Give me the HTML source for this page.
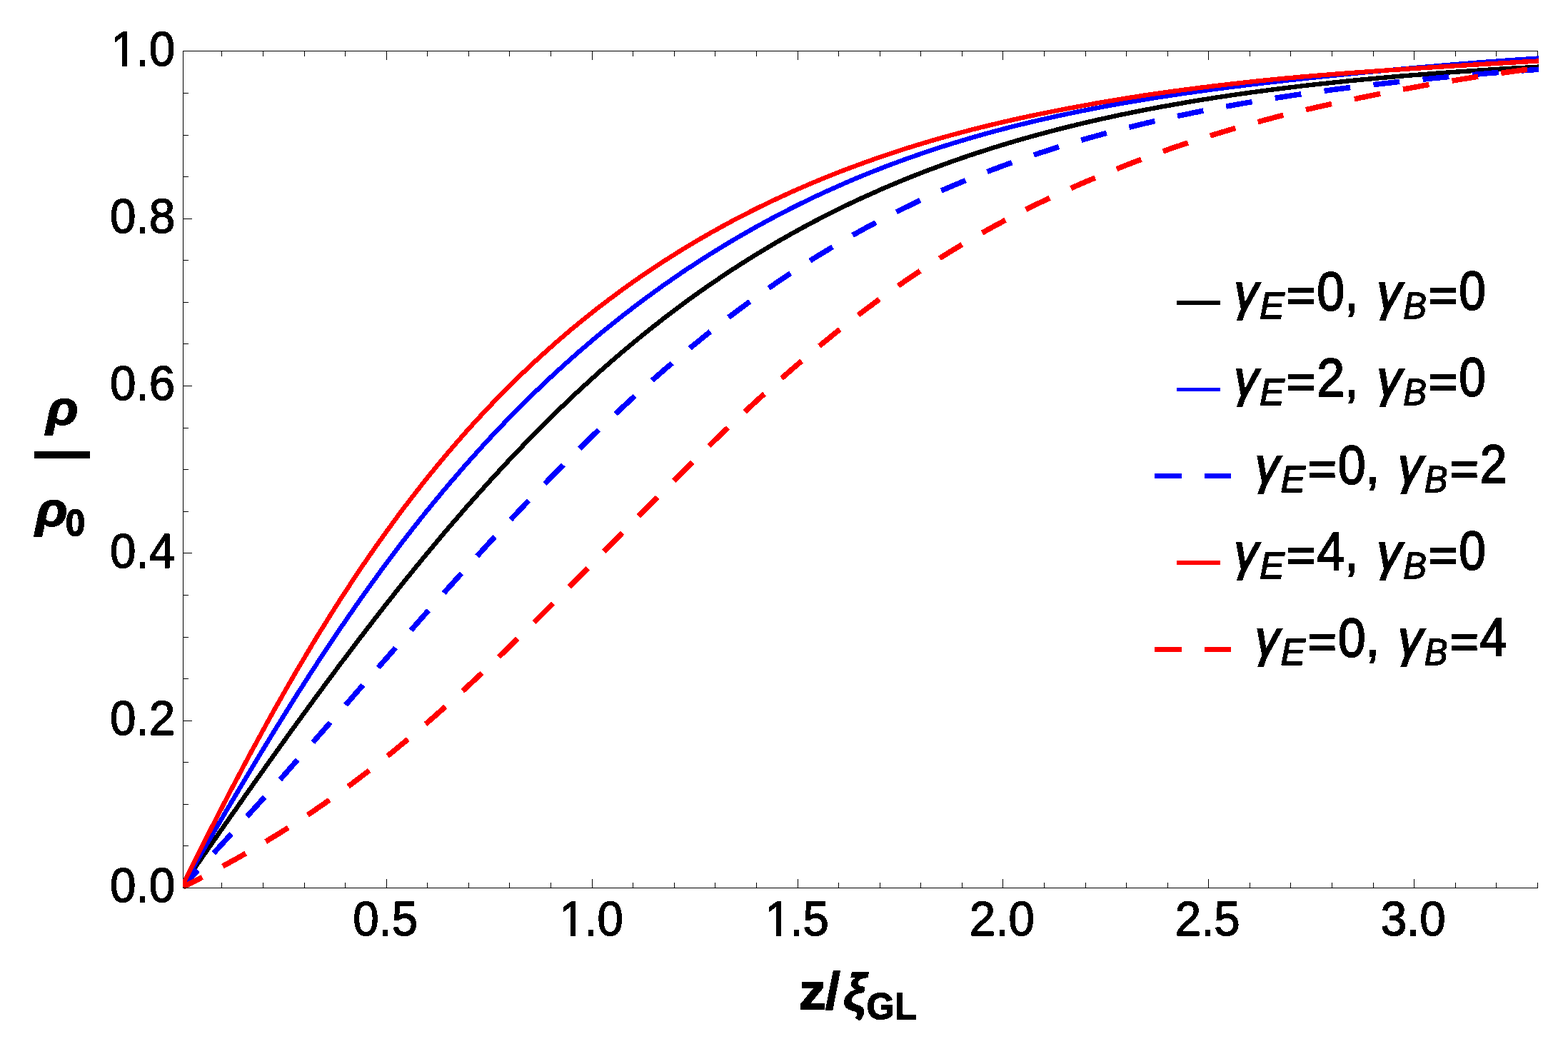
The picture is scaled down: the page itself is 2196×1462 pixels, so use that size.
<!DOCTYPE html>
<html lang="en"><head><meta charset="utf-8"><title>Order parameter profile</title>
<style>
html,body{margin:0;padding:0;background:#fff;}
body{width:2196px;height:1462px;overflow:hidden;}
svg{display:block;}
text{font-family:"Liberation Sans",sans-serif;fill:#000;stroke:#000;stroke-linejoin:miter;stroke-miterlimit:3;font-kerning:none;}
.b{font-weight:bold;}
.i{font-style:italic;}
</style></head><body>
<svg width="2196" height="1462" viewBox="0 0 2196 1462">
<rect x="0" y="0" width="2196" height="1462" fill="#fff"/>
<defs><clipPath id="c"><rect x="256.0" y="61.5" width="1899.0" height="1186.0"/></clipPath><filter id="th" x="0" y="0" width="2196" height="1462" filterUnits="userSpaceOnUse" color-interpolation-filters="sRGB"><feComponentTransfer><feFuncA type="discrete" tableValues="0 1"/></feComponentTransfer></filter></defs>
<path d="M256.5,71.0 V1244.0 M256.0,71.5 H2154.0 M310.5,71.0 v8 M368.5,71.0 v8 M426.5,71.0 v8 M483.5,71.0 v8 M541.5,71.0 v13 M598.5,71.0 v8 M656.5,71.0 v8 M713.5,71.0 v8 M771.5,71.0 v8 M829.5,71.0 v13 M886.5,71.0 v8 M944.5,71.0 v8 M1001.5,71.0 v8 M1059.5,71.0 v8 M1117.5,71.0 v13 M1174.5,71.0 v8 M1232.5,71.0 v8 M1289.5,71.0 v8 M1347.5,71.0 v8 M1404.5,71.0 v13 M1462.5,71.0 v8 M1520.5,71.0 v8 M1577.5,71.0 v8 M1635.5,71.0 v8 M1692.5,71.0 v13 M1750.5,71.0 v8 M1807.5,71.0 v8 M1865.5,71.0 v8 M1923.5,71.0 v8 M1980.5,71.0 v13 M2038.5,71.0 v8 M2095.5,71.0 v8 M2153.5,71.0 v8 M256.0,1243.5 h13 M256.0,1184.5 h8 M256.0,1126.5 h8 M256.0,1067.5 h8 M256.0,1009.5 h13 M256.0,950.5 h8 M256.0,892.5 h8 M256.0,833.5 h8 M256.0,774.5 h13 M256.0,716.5 h8 M256.0,657.5 h8 M256.0,599.5 h8 M256.0,540.5 h13 M256.0,481.5 h8 M256.0,423.5 h8 M256.0,364.5 h8 M256.0,306.5 h13 M256.0,247.5 h8 M256.0,189.5 h8 M256.0,130.5 h8 M256.0,71.5 h13" stroke="#000" stroke-width="1" fill="none" shape-rendering="crispEdges"/>
<g clip-path="url(#c)" fill="none" stroke-linejoin="round" shape-rendering="crispEdges">
<path d="M256.5,1238.9 L260.3,1233.4 L264.1,1227.9 L268.0,1222.4 L271.8,1216.9 L275.6,1211.4 L279.4,1206.0 L283.2,1200.5 L287.0,1195.0 L290.8,1189.5 L294.6,1184.1 L298.5,1178.6 L302.3,1173.1 L306.1,1167.7 L309.9,1162.2 L313.7,1156.7 L317.5,1151.3 L321.3,1145.8 L325.1,1140.4 L329.0,1135.0 L332.8,1129.5 L336.6,1124.1 L340.4,1118.7 L344.2,1113.2 L348.0,1107.8 L351.8,1102.4 L355.6,1097.0 L359.5,1091.6 L363.3,1086.2 L367.1,1080.9 L370.9,1075.5 L374.7,1070.1 L378.5,1064.7 L382.3,1059.4 L386.1,1054.0 L390.0,1048.7 L393.8,1043.4 L397.6,1038.1 L401.4,1032.7 L405.2,1027.4 L409.0,1022.1 L412.8,1016.9 L416.6,1011.6 L420.5,1006.3 L424.3,1001.1 L428.1,995.8 L431.9,990.6 L435.7,985.4 L439.5,980.1 L443.3,974.9 L447.1,969.8 L451.0,964.6 L454.8,959.4 L458.6,954.2 L462.4,949.1 L466.2,944.0 L470.0,938.9 L473.8,933.7 L477.6,928.6 L481.5,923.6 L485.3,918.5 L489.1,913.4 L492.9,908.4 L496.7,903.4 L500.5,898.3 L504.3,893.3 L508.1,888.4 L512.0,883.4 L515.8,878.4 L519.6,873.5 L523.4,868.5 L527.2,863.6 L531.0,858.7 L534.8,853.8 L538.6,849.0 L542.5,844.1 L546.3,839.3 L550.1,834.5 L553.9,829.6 L557.7,824.9 L561.5,820.1 L565.3,815.3 L569.1,810.6 L573.0,805.8 L576.8,801.1 L580.6,796.4 L584.4,791.8 L588.2,787.1 L592.0,782.5 L595.8,777.8 L599.6,773.2 L603.5,768.6 L607.3,764.0 L611.1,759.5 L614.9,754.9 L618.7,750.4 L622.5,745.9 L626.3,741.4 L630.1,737.0 L634.0,732.5 L637.8,728.1 L641.6,723.7 L645.4,719.3 L649.2,714.9 L653.0,710.5 L656.8,706.2 L660.6,701.9 L664.5,697.6 L668.3,693.3 L672.1,689.0 L675.9,684.8 L679.7,680.5 L683.5,676.3 L687.3,672.1 L691.1,668.0 L695.0,663.8 L698.8,659.7 L702.6,655.6 L706.4,651.5 L710.2,647.4 L714.0,643.3 L717.8,639.3 L721.6,635.3 L725.5,631.3 L729.3,627.3 L733.1,623.4 L736.9,619.4 L740.7,615.5 L744.5,611.6 L748.3,607.7 L752.1,603.9 L756.0,600.0 L759.8,596.2 L763.6,592.4 L767.4,588.6 L771.2,584.9 L775.0,581.1 L778.8,577.4 L782.6,573.7 L786.5,570.0 L790.3,566.3 L794.1,562.7 L797.9,559.1 L801.7,555.5 L805.5,551.9 L809.3,548.3 L813.1,544.8 L817.0,541.3 L820.8,537.8 L824.6,534.3 L828.4,530.8 L832.2,527.4 L836.0,523.9 L839.8,520.5 L843.6,517.1 L847.5,513.8 L851.3,510.4 L855.1,507.1 L858.9,503.8 L862.7,500.5 L866.5,497.2 L870.3,494.0 L874.1,490.7 L878.0,487.5 L881.8,484.3 L885.6,481.2 L889.4,478.0 L893.2,474.9 L897.0,471.8 L900.8,468.7 L904.6,465.6 L908.5,462.5 L912.3,459.5 L916.1,456.5 L919.9,453.5 L923.7,450.5 L927.5,447.5 L931.3,444.6 L935.1,441.7 L939.0,438.8 L942.8,435.9 L946.6,433.0 L950.4,430.2 L954.2,427.3 L958.0,424.5 L961.8,421.7 L965.6,418.9 L969.4,416.2 L973.3,413.4 L977.1,410.7 L980.9,408.0 L984.7,405.3 L988.5,402.7 L992.3,400.0 L996.1,397.4 L999.9,394.8 L1003.8,392.2 L1007.6,389.6 L1011.4,387.0 L1015.2,384.5 L1019.0,381.9 L1022.8,379.4 L1026.6,376.9 L1030.4,374.5 L1034.3,372.0 L1038.1,369.6 L1041.9,367.1 L1045.7,364.7 L1049.5,362.3 L1053.3,360.0 L1057.1,357.6 L1060.9,355.3 L1064.8,352.9 L1068.6,350.6 L1072.4,348.3 L1076.2,346.1 L1080.0,343.8 L1083.8,341.6 L1087.6,339.3 L1091.4,337.1 L1095.3,334.9 L1099.1,332.8 L1102.9,330.6 L1106.7,328.4 L1110.5,326.3 L1114.3,324.2 L1118.1,322.1 L1121.9,320.0 L1125.8,317.9 L1129.6,315.9 L1133.4,313.8 L1137.2,311.8 L1141.0,309.8 L1144.8,307.8 L1148.6,305.8 L1152.4,303.9 L1156.3,301.9 L1160.1,300.0 L1163.9,298.1 L1167.7,296.2 L1171.5,294.3 L1175.3,292.4 L1179.1,290.5 L1182.9,288.7 L1186.8,286.8 L1190.6,285.0 L1194.4,283.2 L1198.2,281.4 L1202.0,279.6 L1205.8,277.9 L1209.6,276.1 L1213.4,274.4 L1217.3,272.7 L1221.1,271.0 L1224.9,269.3 L1228.7,267.6 L1232.5,265.9 L1236.3,264.2 L1240.1,262.6 L1243.9,261.0 L1247.8,259.3 L1251.6,257.7 L1255.4,256.1 L1259.2,254.5 L1263.0,253.0 L1266.8,251.4 L1270.6,249.9 L1274.4,248.3 L1278.3,246.8 L1282.1,245.3 L1285.9,243.8 L1289.7,242.3 L1293.5,240.8 L1297.3,239.4 L1301.1,237.9 L1304.9,236.5 L1308.8,235.1 L1312.6,233.7 L1316.4,232.3 L1320.2,230.9 L1324.0,229.5 L1327.8,228.1 L1331.6,226.7 L1335.4,225.4 L1339.3,224.1 L1343.1,222.7 L1346.9,221.4 L1350.7,220.1 L1354.5,218.8 L1358.3,217.5 L1362.1,216.3 L1365.9,215.0 L1369.8,213.7 L1373.6,212.5 L1377.4,211.3 L1381.2,210.0 L1385.0,208.8 L1388.8,207.6 L1392.6,206.4 L1396.4,205.3 L1400.3,204.1 L1404.1,202.9 L1407.9,201.8 L1411.7,200.6 L1415.5,199.5 L1419.3,198.4 L1423.1,197.2 L1426.9,196.1 L1430.8,195.0 L1434.6,194.0 L1438.4,192.9 L1442.2,191.8 L1446.0,190.7 L1449.8,189.7 L1453.6,188.7 L1457.4,187.6 L1461.3,186.6 L1465.1,185.6 L1468.9,184.6 L1472.7,183.6 L1476.5,182.6 L1480.3,181.6 L1484.1,180.6 L1487.9,179.6 L1491.8,178.7 L1495.6,177.7 L1499.4,176.8 L1503.2,175.9 L1507.0,174.9 L1510.8,174.0 L1514.6,173.1 L1518.4,172.2 L1522.3,171.3 L1526.1,170.4 L1529.9,169.5 L1533.7,168.7 L1537.5,167.8 L1541.3,166.9 L1545.1,166.1 L1548.9,165.3 L1552.8,164.4 L1556.6,163.6 L1560.4,162.8 L1564.2,162.0 L1568.0,161.1 L1571.8,160.3 L1575.6,159.6 L1579.4,158.8 L1583.3,158.0 L1587.1,157.2 L1590.9,156.4 L1594.7,155.7 L1598.5,154.9 L1602.3,154.2 L1606.1,153.4 L1609.9,152.7 L1613.8,152.0 L1617.6,151.3 L1621.4,150.6 L1625.2,149.8 L1629.0,149.1 L1632.8,148.4 L1636.6,147.8 L1640.4,147.1 L1644.3,146.4 L1648.1,145.7 L1651.9,145.1 L1655.7,144.4 L1659.5,143.7 L1663.3,143.1 L1667.1,142.4 L1670.9,141.8 L1674.8,141.2 L1678.6,140.5 L1682.4,139.9 L1686.2,139.3 L1690.0,138.7 L1693.8,138.1 L1697.6,137.5 L1701.4,136.9 L1705.3,136.3 L1709.1,135.7 L1712.9,135.1 L1716.7,134.6 L1720.5,134.0 L1724.3,133.4 L1728.1,132.9 L1731.9,132.3 L1735.8,131.8 L1739.6,131.2 L1743.4,130.7 L1747.2,130.2 L1751.0,129.6 L1754.8,129.1 L1758.6,128.6 L1762.4,128.1 L1766.3,127.6 L1770.1,127.1 L1773.9,126.6 L1777.7,126.1 L1781.5,125.6 L1785.3,125.1 L1789.1,124.6 L1792.9,124.1 L1796.8,123.6 L1800.6,123.2 L1804.4,122.7 L1808.2,122.2 L1812.0,121.8 L1815.8,121.3 L1819.6,120.9 L1823.4,120.4 L1827.3,120.0 L1831.1,119.5 L1834.9,119.1 L1838.7,118.7 L1842.5,118.2 L1846.3,117.8 L1850.1,117.4 L1853.9,117.0 L1857.8,116.6 L1861.6,116.2 L1865.4,115.8 L1869.2,115.4 L1873.0,115.0 L1876.8,114.6 L1880.6,114.2 L1884.4,113.8 L1888.3,113.4 L1892.1,113.0 L1895.9,112.6 L1899.7,112.3 L1903.5,111.9 L1907.3,111.5 L1911.1,111.2 L1914.9,110.8 L1918.8,110.5 L1922.6,110.1 L1926.4,109.8 L1930.2,109.4 L1934.0,109.1 L1937.8,108.7 L1941.6,108.4 L1945.4,108.1 L1949.3,107.7 L1953.1,107.4 L1956.9,107.1 L1960.7,106.7 L1964.5,106.4 L1968.3,106.1 L1972.1,105.8 L1975.9,105.5 L1979.8,105.2 L1983.6,104.9 L1987.4,104.6 L1991.2,104.3 L1995.0,104.0 L1998.8,103.7 L2002.6,103.4 L2006.4,103.1 L2010.3,102.8 L2014.1,102.5 L2017.9,102.2 L2021.7,102.0 L2025.5,101.7 L2029.3,101.4 L2033.1,101.1 L2036.9,100.9 L2040.7,100.6 L2044.6,100.3 L2048.4,100.1 L2052.2,99.8 L2056.0,99.6 L2059.8,99.3 L2063.6,99.0 L2067.4,98.8 L2071.2,98.6 L2075.1,98.3 L2078.9,98.1 L2082.7,97.8 L2086.5,97.6 L2090.3,97.3 L2094.1,97.1 L2097.9,96.9 L2101.7,96.6 L2105.6,96.4 L2109.4,96.2 L2113.2,96.0 L2117.0,95.7 L2120.8,95.5 L2124.6,95.3 L2128.4,95.1 L2132.2,94.9 L2136.1,94.7 L2139.9,94.5 L2143.7,94.2 L2147.5,94.0 L2151.3,93.8 L2155.1,93.6 L2158.9,93.4" stroke="#000000" stroke-width="6.4"/>
<path d="M256.5,1238.7 L260.3,1232.2 L264.1,1225.6 L268.0,1219.1 L271.8,1212.6 L275.6,1206.1 L279.4,1199.6 L283.2,1193.0 L287.0,1186.5 L290.8,1180.0 L294.6,1173.5 L298.5,1167.0 L302.3,1160.5 L306.1,1154.0 L309.9,1147.5 L313.7,1141.1 L317.5,1134.6 L321.3,1128.1 L325.1,1121.7 L329.0,1115.3 L332.8,1108.8 L336.6,1102.4 L340.4,1096.0 L344.2,1089.6 L348.0,1083.3 L351.8,1076.9 L355.6,1070.6 L359.5,1064.2 L363.3,1057.9 L367.1,1051.6 L370.9,1045.4 L374.7,1039.1 L378.5,1032.9 L382.3,1026.7 L386.1,1020.5 L390.0,1014.3 L393.8,1008.1 L397.6,1002.0 L401.4,995.9 L405.2,989.8 L409.0,983.7 L412.8,977.6 L416.6,971.6 L420.5,965.6 L424.3,959.6 L428.1,953.7 L431.9,947.7 L435.7,941.8 L439.5,935.9 L443.3,930.1 L447.1,924.2 L451.0,918.4 L454.8,912.6 L458.6,906.9 L462.4,901.2 L466.2,895.4 L470.0,889.8 L473.8,884.1 L477.6,878.5 L481.5,872.9 L485.3,867.3 L489.1,861.8 L492.9,856.3 L496.7,850.8 L500.5,845.3 L504.3,839.9 L508.1,834.5 L512.0,829.1 L515.8,823.8 L519.6,818.4 L523.4,813.1 L527.2,807.9 L531.0,802.6 L534.8,797.4 L538.6,792.3 L542.5,787.1 L546.3,782.0 L550.1,776.9 L553.9,771.8 L557.7,766.8 L561.5,761.8 L565.3,756.8 L569.1,751.9 L573.0,746.9 L576.8,742.0 L580.6,737.2 L584.4,732.3 L588.2,727.5 L592.0,722.8 L595.8,718.0 L599.6,713.3 L603.5,708.6 L607.3,703.9 L611.1,699.3 L614.9,694.7 L618.7,690.1 L622.5,685.5 L626.3,681.0 L630.1,676.5 L634.0,672.0 L637.8,667.6 L641.6,663.2 L645.4,658.8 L649.2,654.4 L653.0,650.1 L656.8,645.8 L660.6,641.5 L664.5,637.2 L668.3,633.0 L672.1,628.8 L675.9,624.6 L679.7,620.4 L683.5,616.3 L687.3,612.2 L691.1,608.1 L695.0,604.1 L698.8,600.1 L702.6,596.1 L706.4,592.1 L710.2,588.2 L714.0,584.2 L717.8,580.3 L721.6,576.5 L725.5,572.6 L729.3,568.8 L733.1,565.0 L736.9,561.2 L740.7,557.5 L744.5,553.7 L748.3,550.0 L752.1,546.4 L756.0,542.7 L759.8,539.1 L763.6,535.5 L767.4,531.9 L771.2,528.3 L775.0,524.8 L778.8,521.3 L782.6,517.8 L786.5,514.3 L790.3,510.9 L794.1,507.4 L797.9,504.0 L801.7,500.7 L805.5,497.3 L809.3,494.0 L813.1,490.6 L817.0,487.4 L820.8,484.1 L824.6,480.8 L828.4,477.6 L832.2,474.4 L836.0,471.2 L839.8,468.0 L843.6,464.9 L847.5,461.8 L851.3,458.7 L855.1,455.6 L858.9,452.5 L862.7,449.5 L866.5,446.5 L870.3,443.5 L874.1,440.5 L878.0,437.5 L881.8,434.6 L885.6,431.6 L889.4,428.7 L893.2,425.8 L897.0,423.0 L900.8,420.1 L904.6,417.3 L908.5,414.5 L912.3,411.7 L916.1,408.9 L919.9,406.2 L923.7,403.5 L927.5,400.7 L931.3,398.0 L935.1,395.4 L939.0,392.7 L942.8,390.1 L946.6,387.4 L950.4,384.8 L954.2,382.2 L958.0,379.7 L961.8,377.1 L965.6,374.6 L969.4,372.1 L973.3,369.6 L977.1,367.1 L980.9,364.6 L984.7,362.2 L988.5,359.7 L992.3,357.3 L996.1,354.9 L999.9,352.6 L1003.8,350.2 L1007.6,347.8 L1011.4,345.5 L1015.2,343.2 L1019.0,340.9 L1022.8,338.6 L1026.6,336.4 L1030.4,334.1 L1034.3,331.9 L1038.1,329.7 L1041.9,327.5 L1045.7,325.3 L1049.5,323.1 L1053.3,321.0 L1057.1,318.8 L1060.9,316.7 L1064.8,314.6 L1068.6,312.5 L1072.4,310.4 L1076.2,308.4 L1080.0,306.3 L1083.8,304.3 L1087.6,302.3 L1091.4,300.3 L1095.3,298.3 L1099.1,296.3 L1102.9,294.4 L1106.7,292.4 L1110.5,290.5 L1114.3,288.6 L1118.1,286.7 L1121.9,284.8 L1125.8,283.0 L1129.6,281.1 L1133.4,279.3 L1137.2,277.4 L1141.0,275.6 L1144.8,273.8 L1148.6,272.1 L1152.4,270.3 L1156.3,268.5 L1160.1,266.8 L1163.9,265.1 L1167.7,263.4 L1171.5,261.7 L1175.3,260.0 L1179.1,258.3 L1182.9,256.6 L1186.8,255.0 L1190.6,253.4 L1194.4,251.7 L1198.2,250.1 L1202.0,248.5 L1205.8,247.0 L1209.6,245.4 L1213.4,243.8 L1217.3,242.3 L1221.1,240.8 L1224.9,239.3 L1228.7,237.8 L1232.5,236.3 L1236.3,234.8 L1240.1,233.3 L1243.9,231.9 L1247.8,230.4 L1251.6,229.0 L1255.4,227.6 L1259.2,226.2 L1263.0,224.8 L1266.8,223.4 L1270.6,222.0 L1274.4,220.7 L1278.3,219.3 L1282.1,218.0 L1285.9,216.7 L1289.7,215.3 L1293.5,214.0 L1297.3,212.8 L1301.1,211.5 L1304.9,210.2 L1308.8,208.9 L1312.6,207.7 L1316.4,206.5 L1320.2,205.2 L1324.0,204.0 L1327.8,202.8 L1331.6,201.6 L1335.4,200.5 L1339.3,199.3 L1343.1,198.1 L1346.9,197.0 L1350.7,195.8 L1354.5,194.7 L1358.3,193.6 L1362.1,192.5 L1365.9,191.4 L1369.8,190.3 L1373.6,189.2 L1377.4,188.1 L1381.2,187.1 L1385.0,186.0 L1388.8,185.0 L1392.6,183.9 L1396.4,182.9 L1400.3,181.9 L1404.1,180.9 L1407.9,179.9 L1411.7,178.9 L1415.5,177.9 L1419.3,177.0 L1423.1,176.0 L1426.9,175.1 L1430.8,174.1 L1434.6,173.2 L1438.4,172.3 L1442.2,171.3 L1446.0,170.4 L1449.8,169.5 L1453.6,168.6 L1457.4,167.8 L1461.3,166.9 L1465.1,166.0 L1468.9,165.2 L1472.7,164.3 L1476.5,163.5 L1480.3,162.6 L1484.1,161.8 L1487.9,161.0 L1491.8,160.2 L1495.6,159.4 L1499.4,158.6 L1503.2,157.8 L1507.0,157.0 L1510.8,156.2 L1514.6,155.4 L1518.4,154.7 L1522.3,153.9 L1526.1,153.2 L1529.9,152.4 L1533.7,151.7 L1537.5,151.0 L1541.3,150.2 L1545.1,149.5 L1548.9,148.8 L1552.8,148.1 L1556.6,147.4 L1560.4,146.7 L1564.2,146.0 L1568.0,145.3 L1571.8,144.7 L1575.6,144.0 L1579.4,143.3 L1583.3,142.7 L1587.1,142.0 L1590.9,141.4 L1594.7,140.8 L1598.5,140.1 L1602.3,139.5 L1606.1,138.9 L1609.9,138.3 L1613.8,137.6 L1617.6,137.0 L1621.4,136.4 L1625.2,135.8 L1629.0,135.2 L1632.8,134.7 L1636.6,134.1 L1640.4,133.5 L1644.3,132.9 L1648.1,132.4 L1651.9,131.8 L1655.7,131.2 L1659.5,130.7 L1663.3,130.1 L1667.1,129.6 L1670.9,129.1 L1674.8,128.5 L1678.6,128.0 L1682.4,127.5 L1686.2,126.9 L1690.0,126.4 L1693.8,125.9 L1697.6,125.4 L1701.4,124.9 L1705.3,124.4 L1709.1,123.9 L1712.9,123.4 L1716.7,122.9 L1720.5,122.4 L1724.3,121.9 L1728.1,121.4 L1731.9,121.0 L1735.8,120.5 L1739.6,120.0 L1743.4,119.5 L1747.2,119.1 L1751.0,118.6 L1754.8,118.1 L1758.6,117.7 L1762.4,117.2 L1766.3,116.8 L1770.1,116.3 L1773.9,115.9 L1777.7,115.5 L1781.5,115.0 L1785.3,114.6 L1789.1,114.1 L1792.9,113.7 L1796.8,113.3 L1800.6,112.9 L1804.4,112.4 L1808.2,112.0 L1812.0,111.6 L1815.8,111.2 L1819.6,110.8 L1823.4,110.3 L1827.3,109.9 L1831.1,109.5 L1834.9,109.1 L1838.7,108.7 L1842.5,108.3 L1846.3,107.9 L1850.1,107.5 L1853.9,107.1 L1857.8,106.7 L1861.6,106.3 L1865.4,106.0 L1869.2,105.6 L1873.0,105.2 L1876.8,104.8 L1880.6,104.4 L1884.4,104.0 L1888.3,103.7 L1892.1,103.3 L1895.9,102.9 L1899.7,102.5 L1903.5,102.2 L1907.3,101.8 L1911.1,101.4 L1914.9,101.1 L1918.8,100.7 L1922.6,100.3 L1926.4,100.0 L1930.2,99.6 L1934.0,99.3 L1937.8,98.9 L1941.6,98.6 L1945.4,98.2 L1949.3,97.9 L1953.1,97.5 L1956.9,97.2 L1960.7,96.8 L1964.5,96.5 L1968.3,96.1 L1972.1,95.8 L1975.9,95.4 L1979.8,95.1 L1983.6,94.8 L1987.4,94.4 L1991.2,94.1 L1995.0,93.8 L1998.8,93.4 L2002.6,93.1 L2006.4,92.8 L2010.3,92.5 L2014.1,92.1 L2017.9,91.8 L2021.7,91.5 L2025.5,91.2 L2029.3,90.9 L2033.1,90.5 L2036.9,90.2 L2040.7,89.9 L2044.6,89.6 L2048.4,89.3 L2052.2,89.0 L2056.0,88.7 L2059.8,88.4 L2063.6,88.1 L2067.4,87.8 L2071.2,87.5 L2075.1,87.2 L2078.9,86.9 L2082.7,86.6 L2086.5,86.3 L2090.3,86.0 L2094.1,85.8 L2097.9,85.5 L2101.7,85.2 L2105.6,84.9 L2109.4,84.6 L2113.2,84.4 L2117.0,84.1 L2120.8,83.8 L2124.6,83.6 L2128.4,83.3 L2132.2,83.0 L2136.1,82.8 L2139.9,82.5 L2143.7,82.3 L2147.5,82.0 L2151.3,81.8 L2155.1,81.5 L2158.9,81.3" stroke="#0000ff" stroke-width="6.4"/>
<path d="M256.5,1240.5 L260.3,1236.5 L264.1,1232.4 L268.0,1228.4 L271.8,1224.3 L275.6,1220.2 L279.4,1216.1 L283.2,1212.0 L287.0,1207.9 L290.8,1203.8 L294.6,1199.7 L298.5,1195.6 L302.3,1191.4 L306.1,1187.3 L309.9,1183.1 L313.7,1179.0 L317.5,1174.8 L321.3,1170.6 L325.1,1166.4 L329.0,1162.2 L332.8,1158.0 L336.6,1153.8 L340.4,1149.6 L344.2,1145.4 L348.0,1141.2 L351.8,1136.9 L355.6,1132.7 L359.5,1128.5 L363.3,1124.2 L367.1,1119.9 L370.9,1115.7 L374.7,1111.4 L378.5,1107.1 L382.3,1102.9 L386.1,1098.6 L390.0,1094.3 L393.8,1090.0 L397.6,1085.7 L401.4,1081.4 L405.2,1077.1 L409.0,1072.8 L412.8,1068.4 L416.6,1064.1 L420.5,1059.8 L424.3,1055.5 L428.1,1051.1 L431.9,1046.8 L435.7,1042.5 L439.5,1038.1 L443.3,1033.8 L447.1,1029.4 L451.0,1025.1 L454.8,1020.7 L458.6,1016.4 L462.4,1012.0 L466.2,1007.6 L470.0,1003.3 L473.8,998.9 L477.6,994.6 L481.5,990.2 L485.3,985.8 L489.1,981.5 L492.9,977.1 L496.7,972.7 L500.5,968.3 L504.3,964.0 L508.1,959.6 L512.0,955.2 L515.8,950.9 L519.6,946.5 L523.4,942.1 L527.2,937.8 L531.0,933.4 L534.8,929.0 L538.6,924.7 L542.5,920.3 L546.3,916.0 L550.1,911.6 L553.9,907.3 L557.7,902.9 L561.5,898.6 L565.3,894.2 L569.1,889.9 L573.0,885.5 L576.8,881.2 L580.6,876.9 L584.4,872.5 L588.2,868.2 L592.0,863.9 L595.8,859.6 L599.6,855.3 L603.5,851.0 L607.3,846.7 L611.1,842.4 L614.9,838.1 L618.7,833.8 L622.5,829.5 L626.3,825.2 L630.1,821.0 L634.0,816.7 L637.8,812.4 L641.6,808.2 L645.4,804.0 L649.2,799.7 L653.0,795.5 L656.8,791.3 L660.6,787.1 L664.5,782.9 L668.3,778.7 L672.1,774.5 L675.9,770.3 L679.7,766.1 L683.5,762.0 L687.3,757.8 L691.1,753.7 L695.0,749.5 L698.8,745.4 L702.6,741.3 L706.4,737.2 L710.2,733.1 L714.0,729.0 L717.8,724.9 L721.6,720.9 L725.5,716.8 L729.3,712.8 L733.1,708.7 L736.9,704.7 L740.7,700.7 L744.5,696.7 L748.3,692.7 L752.1,688.7 L756.0,684.8 L759.8,680.8 L763.6,676.9 L767.4,672.9 L771.2,669.0 L775.0,665.1 L778.8,661.2 L782.6,657.3 L786.5,653.5 L790.3,649.6 L794.1,645.8 L797.9,641.9 L801.7,638.1 L805.5,634.3 L809.3,630.5 L813.1,626.7 L817.0,623.0 L820.8,619.2 L824.6,615.5 L828.4,611.8 L832.2,608.1 L836.0,604.4 L839.8,600.7 L843.6,597.0 L847.5,593.4 L851.3,589.8 L855.1,586.1 L858.9,582.5 L862.7,579.0 L866.5,575.4 L870.3,571.8 L874.1,568.3 L878.0,564.8 L881.8,561.2 L885.6,557.7 L889.4,554.3 L893.2,550.8 L897.0,547.3 L900.8,543.9 L904.6,540.5 L908.5,537.1 L912.3,533.7 L916.1,530.3 L919.9,527.0 L923.7,523.6 L927.5,520.3 L931.3,517.0 L935.1,513.7 L939.0,510.5 L942.8,507.2 L946.6,504.0 L950.4,500.7 L954.2,497.5 L958.0,494.3 L961.8,491.2 L965.6,488.0 L969.4,484.9 L973.3,481.8 L977.1,478.7 L980.9,475.6 L984.7,472.5 L988.5,469.4 L992.3,466.4 L996.1,463.4 L999.9,460.4 L1003.8,457.4 L1007.6,454.4 L1011.4,451.5 L1015.2,448.5 L1019.0,445.6 L1022.8,442.7 L1026.6,439.8 L1030.4,436.9 L1034.3,434.1 L1038.1,431.2 L1041.9,428.4 L1045.7,425.6 L1049.5,422.8 L1053.3,420.1 L1057.1,417.3 L1060.9,414.6 L1064.8,411.9 L1068.6,409.2 L1072.4,406.5 L1076.2,403.8 L1080.0,401.2 L1083.8,398.5 L1087.6,395.9 L1091.4,393.3 L1095.3,390.7 L1099.1,388.2 L1102.9,385.6 L1106.7,383.1 L1110.5,380.6 L1114.3,378.1 L1118.1,375.6 L1121.9,373.1 L1125.8,370.7 L1129.6,368.2 L1133.4,365.8 L1137.2,363.4 L1141.0,361.0 L1144.8,358.7 L1148.6,356.3 L1152.4,354.0 L1156.3,351.7 L1160.1,349.4 L1163.9,347.1 L1167.7,344.8 L1171.5,342.5 L1175.3,340.3 L1179.1,338.1 L1182.9,335.9 L1186.8,333.7 L1190.6,331.5 L1194.4,329.3 L1198.2,327.2 L1202.0,325.0 L1205.8,322.9 L1209.6,320.8 L1213.4,318.7 L1217.3,316.7 L1221.1,314.6 L1224.9,312.6 L1228.7,310.6 L1232.5,308.5 L1236.3,306.6 L1240.1,304.6 L1243.9,302.6 L1247.8,300.7 L1251.6,298.7 L1255.4,296.8 L1259.2,294.9 L1263.0,293.0 L1266.8,291.1 L1270.6,289.3 L1274.4,287.4 L1278.3,285.6 L1282.1,283.7 L1285.9,281.9 L1289.7,280.1 L1293.5,278.4 L1297.3,276.6 L1301.1,274.9 L1304.9,273.1 L1308.8,271.4 L1312.6,269.7 L1316.4,268.0 L1320.2,266.3 L1324.0,264.6 L1327.8,263.0 L1331.6,261.3 L1335.4,259.7 L1339.3,258.1 L1343.1,256.5 L1346.9,254.9 L1350.7,253.3 L1354.5,251.7 L1358.3,250.2 L1362.1,248.6 L1365.9,247.1 L1369.8,245.6 L1373.6,244.1 L1377.4,242.6 L1381.2,241.1 L1385.0,239.6 L1388.8,238.1 L1392.6,236.7 L1396.4,235.3 L1400.3,233.8 L1404.1,232.4 L1407.9,231.0 L1411.7,229.6 L1415.5,228.3 L1419.3,226.9 L1423.1,225.5 L1426.9,224.2 L1430.8,222.9 L1434.6,221.6 L1438.4,220.2 L1442.2,218.9 L1446.0,217.7 L1449.8,216.4 L1453.6,215.1 L1457.4,213.8 L1461.3,212.6 L1465.1,211.4 L1468.9,210.1 L1472.7,208.9 L1476.5,207.7 L1480.3,206.5 L1484.1,205.3 L1487.9,204.2 L1491.8,203.0 L1495.6,201.8 L1499.4,200.7 L1503.2,199.6 L1507.0,198.4 L1510.8,197.3 L1514.6,196.2 L1518.4,195.1 L1522.3,194.0 L1526.1,192.9 L1529.9,191.9 L1533.7,190.8 L1537.5,189.7 L1541.3,188.7 L1545.1,187.7 L1548.9,186.6 L1552.8,185.6 L1556.6,184.6 L1560.4,183.6 L1564.2,182.6 L1568.0,181.6 L1571.8,180.7 L1575.6,179.7 L1579.4,178.7 L1583.3,177.8 L1587.1,176.8 L1590.9,175.9 L1594.7,175.0 L1598.5,174.1 L1602.3,173.2 L1606.1,172.2 L1609.9,171.4 L1613.8,170.5 L1617.6,169.6 L1621.4,168.7 L1625.2,167.8 L1629.0,167.0 L1632.8,166.1 L1636.6,165.3 L1640.4,164.5 L1644.3,163.6 L1648.1,162.8 L1651.9,162.0 L1655.7,161.2 L1659.5,160.4 L1663.3,159.6 L1667.1,158.8 L1670.9,158.0 L1674.8,157.2 L1678.6,156.5 L1682.4,155.7 L1686.2,155.0 L1690.0,154.2 L1693.8,153.5 L1697.6,152.7 L1701.4,152.0 L1705.3,151.3 L1709.1,150.6 L1712.9,149.9 L1716.7,149.1 L1720.5,148.5 L1724.3,147.8 L1728.1,147.1 L1731.9,146.4 L1735.8,145.7 L1739.6,145.0 L1743.4,144.4 L1747.2,143.7 L1751.0,143.1 L1754.8,142.4 L1758.6,141.8 L1762.4,141.1 L1766.3,140.5 L1770.1,139.9 L1773.9,139.3 L1777.7,138.6 L1781.5,138.0 L1785.3,137.4 L1789.1,136.8 L1792.9,136.2 L1796.8,135.7 L1800.6,135.1 L1804.4,134.5 L1808.2,133.9 L1812.0,133.3 L1815.8,132.8 L1819.6,132.2 L1823.4,131.7 L1827.3,131.1 L1831.1,130.6 L1834.9,130.0 L1838.7,129.5 L1842.5,128.9 L1846.3,128.4 L1850.1,127.9 L1853.9,127.4 L1857.8,126.9 L1861.6,126.3 L1865.4,125.8 L1869.2,125.3 L1873.0,124.8 L1876.8,124.3 L1880.6,123.9 L1884.4,123.4 L1888.3,122.9 L1892.1,122.4 L1895.9,121.9 L1899.7,121.5 L1903.5,121.0 L1907.3,120.5 L1911.1,120.1 L1914.9,119.6 L1918.8,119.2 L1922.6,118.7 L1926.4,118.3 L1930.2,117.8 L1934.0,117.4 L1937.8,117.0 L1941.6,116.5 L1945.4,116.1 L1949.3,115.7 L1953.1,115.3 L1956.9,114.8 L1960.7,114.4 L1964.5,114.0 L1968.3,113.6 L1972.1,113.2 L1975.9,112.8 L1979.8,112.4 L1983.6,112.0 L1987.4,111.6 L1991.2,111.2 L1995.0,110.9 L1998.8,110.5 L2002.6,110.1 L2006.4,109.7 L2010.3,109.4 L2014.1,109.0 L2017.9,108.6 L2021.7,108.3 L2025.5,107.9 L2029.3,107.6 L2033.1,107.2 L2036.9,106.8 L2040.7,106.5 L2044.6,106.2 L2048.4,105.8 L2052.2,105.5 L2056.0,105.1 L2059.8,104.8 L2063.6,104.5 L2067.4,104.1 L2071.2,103.8 L2075.1,103.5 L2078.9,103.2 L2082.7,102.8 L2086.5,102.5 L2090.3,102.2 L2094.1,101.9 L2097.9,101.6 L2101.7,101.3 L2105.6,101.0 L2109.4,100.7 L2113.2,100.4 L2117.0,100.1 L2120.8,99.8 L2124.6,99.5 L2128.4,99.2 L2132.2,98.9 L2136.1,98.6 L2139.9,98.4 L2143.7,98.1 L2147.5,97.8 L2151.3,97.5 L2155.1,97.3 L2158.9,97.0" stroke="#0000ff" stroke-width="7.5" stroke-dasharray="37 32.5" stroke-dashoffset="7"/>
<path d="M256.5,1237.8 L260.3,1230.2 L264.1,1222.6 L268.0,1215.0 L271.8,1207.4 L275.6,1199.8 L279.4,1192.3 L283.2,1184.7 L287.0,1177.2 L290.8,1169.7 L294.6,1162.2 L298.5,1154.8 L302.3,1147.4 L306.1,1139.9 L309.9,1132.6 L313.7,1125.2 L317.5,1117.9 L321.3,1110.5 L325.1,1103.3 L329.0,1096.0 L332.8,1088.8 L336.6,1081.6 L340.4,1074.4 L344.2,1067.2 L348.0,1060.1 L351.8,1053.0 L355.6,1046.0 L359.5,1038.9 L363.3,1031.9 L367.1,1025.0 L370.9,1018.0 L374.7,1011.1 L378.5,1004.3 L382.3,997.4 L386.1,990.6 L390.0,983.8 L393.8,977.1 L397.6,970.4 L401.4,963.7 L405.2,957.1 L409.0,950.5 L412.8,943.9 L416.6,937.4 L420.5,930.9 L424.3,924.5 L428.1,918.1 L431.9,911.7 L435.7,905.3 L439.5,899.0 L443.3,892.7 L447.1,886.5 L451.0,880.3 L454.8,874.2 L458.6,868.0 L462.4,861.9 L466.2,855.9 L470.0,849.9 L473.8,843.9 L477.6,838.0 L481.5,832.1 L485.3,826.2 L489.1,820.4 L492.9,814.6 L496.7,808.8 L500.5,803.1 L504.3,797.5 L508.1,791.8 L512.0,786.2 L515.8,780.7 L519.6,775.1 L523.4,769.7 L527.2,764.2 L531.0,758.8 L534.8,753.4 L538.6,748.1 L542.5,742.8 L546.3,737.5 L550.1,732.3 L553.9,727.1 L557.7,721.9 L561.5,716.8 L565.3,711.7 L569.1,706.7 L573.0,701.7 L576.8,696.7 L580.6,691.8 L584.4,686.9 L588.2,682.0 L592.0,677.2 L595.8,672.4 L599.6,667.6 L603.5,662.9 L607.3,658.2 L611.1,653.5 L614.9,648.9 L618.7,644.3 L622.5,639.8 L626.3,635.2 L630.1,630.8 L634.0,626.3 L637.8,621.9 L641.6,617.5 L645.4,613.1 L649.2,608.8 L653.0,604.5 L656.8,600.2 L660.6,596.0 L664.5,591.8 L668.3,587.6 L672.1,583.5 L675.9,579.4 L679.7,575.3 L683.5,571.3 L687.3,567.3 L691.1,563.3 L695.0,559.3 L698.8,555.4 L702.6,551.5 L706.4,547.7 L710.2,543.8 L714.0,540.0 L717.8,536.3 L721.6,532.5 L725.5,528.8 L729.3,525.1 L733.1,521.4 L736.9,517.8 L740.7,514.2 L744.5,510.6 L748.3,507.1 L752.1,503.5 L756.0,500.0 L759.8,496.6 L763.6,493.1 L767.4,489.7 L771.2,486.3 L775.0,482.9 L778.8,479.6 L782.6,476.3 L786.5,473.0 L790.3,469.7 L794.1,466.5 L797.9,463.2 L801.7,460.0 L805.5,456.9 L809.3,453.7 L813.1,450.6 L817.0,447.5 L820.8,444.4 L824.6,441.4 L828.4,438.4 L832.2,435.4 L836.0,432.4 L839.8,429.4 L843.6,426.5 L847.5,423.6 L851.3,420.7 L855.1,417.8 L858.9,415.0 L862.7,412.1 L866.5,409.3 L870.3,406.5 L874.1,403.8 L878.0,401.0 L881.8,398.3 L885.6,395.6 L889.4,392.9 L893.2,390.3 L897.0,387.6 L900.8,385.0 L904.6,382.4 L908.5,379.8 L912.3,377.3 L916.1,374.7 L919.9,372.2 L923.7,369.7 L927.5,367.2 L931.3,364.8 L935.1,362.3 L939.0,359.9 L942.8,357.5 L946.6,355.1 L950.4,352.7 L954.2,350.4 L958.0,348.0 L961.8,345.7 L965.6,343.4 L969.4,341.1 L973.3,338.9 L977.1,336.6 L980.9,334.4 L984.7,332.2 L988.5,330.0 L992.3,327.8 L996.1,325.6 L999.9,323.5 L1003.8,321.4 L1007.6,319.2 L1011.4,317.1 L1015.2,315.1 L1019.0,313.0 L1022.8,311.0 L1026.6,308.9 L1030.4,306.9 L1034.3,304.9 L1038.1,302.9 L1041.9,300.9 L1045.7,299.0 L1049.5,297.1 L1053.3,295.1 L1057.1,293.2 L1060.9,291.3 L1064.8,289.4 L1068.6,287.6 L1072.4,285.7 L1076.2,283.9 L1080.0,282.1 L1083.8,280.3 L1087.6,278.5 L1091.4,276.7 L1095.3,274.9 L1099.1,273.2 L1102.9,271.4 L1106.7,269.7 L1110.5,268.0 L1114.3,266.3 L1118.1,264.6 L1121.9,263.0 L1125.8,261.3 L1129.6,259.7 L1133.4,258.0 L1137.2,256.4 L1141.0,254.8 L1144.8,253.2 L1148.6,251.6 L1152.4,250.1 L1156.3,248.5 L1160.1,247.0 L1163.9,245.5 L1167.7,243.9 L1171.5,242.4 L1175.3,240.9 L1179.1,239.5 L1182.9,238.0 L1186.8,236.5 L1190.6,235.1 L1194.4,233.7 L1198.2,232.3 L1202.0,230.8 L1205.8,229.5 L1209.6,228.1 L1213.4,226.7 L1217.3,225.3 L1221.1,224.0 L1224.9,222.6 L1228.7,221.3 L1232.5,220.0 L1236.3,218.7 L1240.1,217.4 L1243.9,216.1 L1247.8,214.8 L1251.6,213.6 L1255.4,212.3 L1259.2,211.1 L1263.0,209.9 L1266.8,208.6 L1270.6,207.4 L1274.4,206.2 L1278.3,205.0 L1282.1,203.9 L1285.9,202.7 L1289.7,201.5 L1293.5,200.4 L1297.3,199.3 L1301.1,198.1 L1304.9,197.0 L1308.8,195.9 L1312.6,194.8 L1316.4,193.7 L1320.2,192.6 L1324.0,191.5 L1327.8,190.5 L1331.6,189.4 L1335.4,188.4 L1339.3,187.4 L1343.1,186.3 L1346.9,185.3 L1350.7,184.3 L1354.5,183.3 L1358.3,182.3 L1362.1,181.3 L1365.9,180.4 L1369.8,179.4 L1373.6,178.4 L1377.4,177.5 L1381.2,176.6 L1385.0,175.6 L1388.8,174.7 L1392.6,173.8 L1396.4,172.9 L1400.3,172.0 L1404.1,171.1 L1407.9,170.2 L1411.7,169.3 L1415.5,168.5 L1419.3,167.6 L1423.1,166.8 L1426.9,165.9 L1430.8,165.1 L1434.6,164.2 L1438.4,163.4 L1442.2,162.6 L1446.0,161.8 L1449.8,161.0 L1453.6,160.2 L1457.4,159.4 L1461.3,158.7 L1465.1,157.9 L1468.9,157.1 L1472.7,156.4 L1476.5,155.6 L1480.3,154.9 L1484.1,154.1 L1487.9,153.4 L1491.8,152.6 L1495.6,151.9 L1499.4,151.2 L1503.2,150.5 L1507.0,149.8 L1510.8,149.1 L1514.6,148.4 L1518.4,147.7 L1522.3,147.0 L1526.1,146.3 L1529.9,145.6 L1533.7,144.9 L1537.5,144.2 L1541.3,143.6 L1545.1,142.9 L1548.9,142.3 L1552.8,141.6 L1556.6,141.0 L1560.4,140.3 L1564.2,139.7 L1568.0,139.1 L1571.8,138.4 L1575.6,137.8 L1579.4,137.2 L1583.3,136.6 L1587.1,136.0 L1590.9,135.4 L1594.7,134.8 L1598.5,134.2 L1602.3,133.6 L1606.1,133.1 L1609.9,132.5 L1613.8,131.9 L1617.6,131.4 L1621.4,130.8 L1625.2,130.3 L1629.0,129.7 L1632.8,129.2 L1636.6,128.6 L1640.4,128.1 L1644.3,127.6 L1648.1,127.1 L1651.9,126.6 L1655.7,126.1 L1659.5,125.6 L1663.3,125.1 L1667.1,124.6 L1670.9,124.1 L1674.8,123.6 L1678.6,123.1 L1682.4,122.6 L1686.2,122.1 L1690.0,121.7 L1693.8,121.2 L1697.6,120.7 L1701.4,120.3 L1705.3,119.8 L1709.1,119.4 L1712.9,118.9 L1716.7,118.5 L1720.5,118.0 L1724.3,117.6 L1728.1,117.1 L1731.9,116.7 L1735.8,116.3 L1739.6,115.9 L1743.4,115.4 L1747.2,115.0 L1751.0,114.6 L1754.8,114.2 L1758.6,113.8 L1762.4,113.4 L1766.3,113.0 L1770.1,112.6 L1773.9,112.2 L1777.7,111.8 L1781.5,111.5 L1785.3,111.1 L1789.1,110.7 L1792.9,110.3 L1796.8,110.0 L1800.6,109.6 L1804.4,109.3 L1808.2,108.9 L1812.0,108.6 L1815.8,108.2 L1819.6,107.9 L1823.4,107.5 L1827.3,107.2 L1831.1,106.9 L1834.9,106.5 L1838.7,106.2 L1842.5,105.9 L1846.3,105.6 L1850.1,105.3 L1853.9,105.0 L1857.8,104.7 L1861.6,104.4 L1865.4,104.1 L1869.2,103.8 L1873.0,103.5 L1876.8,103.2 L1880.6,102.9 L1884.4,102.6 L1888.3,102.3 L1892.1,102.0 L1895.9,101.8 L1899.7,101.5 L1903.5,101.2 L1907.3,100.9 L1911.1,100.7 L1914.9,100.4 L1918.8,100.1 L1922.6,99.9 L1926.4,99.6 L1930.2,99.3 L1934.0,99.1 L1937.8,98.8 L1941.6,98.5 L1945.4,98.3 L1949.3,98.0 L1953.1,97.8 L1956.9,97.5 L1960.7,97.3 L1964.5,97.0 L1968.3,96.8 L1972.1,96.5 L1975.9,96.2 L1979.8,96.0 L1983.6,95.7 L1987.4,95.5 L1991.2,95.2 L1995.0,95.0 L1998.8,94.7 L2002.6,94.5 L2006.4,94.3 L2010.3,94.0 L2014.1,93.8 L2017.9,93.5 L2021.7,93.3 L2025.5,93.0 L2029.3,92.8 L2033.1,92.6 L2036.9,92.3 L2040.7,92.1 L2044.6,91.9 L2048.4,91.6 L2052.2,91.4 L2056.0,91.2 L2059.8,90.9 L2063.6,90.7 L2067.4,90.5 L2071.2,90.3 L2075.1,90.0 L2078.9,89.8 L2082.7,89.6 L2086.5,89.4 L2090.3,89.1 L2094.1,88.9 L2097.9,88.7 L2101.7,88.5 L2105.6,88.3 L2109.4,88.0 L2113.2,87.8 L2117.0,87.6 L2120.8,87.4 L2124.6,87.2 L2128.4,87.0 L2132.2,86.7 L2136.1,86.5 L2139.9,86.3 L2143.7,86.1 L2147.5,85.9 L2151.3,85.7 L2155.1,85.5 L2158.9,85.3" stroke="#ff0000" stroke-width="6.4"/>
<path d="M256.5,1242.1 L260.3,1240.2 L264.1,1238.2 L268.0,1236.3 L271.8,1234.3 L275.6,1232.4 L279.4,1230.4 L283.2,1228.4 L287.0,1226.4 L290.8,1224.4 L294.6,1222.4 L298.5,1220.4 L302.3,1218.3 L306.1,1216.3 L309.9,1214.2 L313.7,1212.1 L317.5,1210.0 L321.3,1207.9 L325.1,1205.8 L329.0,1203.7 L332.8,1201.6 L336.6,1199.4 L340.4,1197.2 L344.2,1195.1 L348.0,1192.9 L351.8,1190.6 L355.6,1188.4 L359.5,1186.2 L363.3,1183.9 L367.1,1181.6 L370.9,1179.4 L374.7,1177.1 L378.5,1174.7 L382.3,1172.4 L386.1,1170.1 L390.0,1167.7 L393.8,1165.3 L397.6,1162.9 L401.4,1160.5 L405.2,1158.1 L409.0,1155.6 L412.8,1153.1 L416.6,1150.7 L420.5,1148.2 L424.3,1145.6 L428.1,1143.1 L431.9,1140.6 L435.7,1138.0 L439.5,1135.4 L443.3,1132.8 L447.1,1130.2 L451.0,1127.5 L454.8,1124.9 L458.6,1122.2 L462.4,1119.5 L466.2,1116.8 L470.0,1114.1 L473.8,1111.3 L477.6,1108.6 L481.5,1105.8 L485.3,1103.0 L489.1,1100.2 L492.9,1097.4 L496.7,1094.5 L500.5,1091.6 L504.3,1088.8 L508.1,1085.8 L512.0,1082.9 L515.8,1080.0 L519.6,1077.0 L523.4,1074.1 L527.2,1071.1 L531.0,1068.0 L534.8,1065.0 L538.6,1062.0 L542.5,1058.9 L546.3,1055.8 L550.1,1052.7 L553.9,1049.6 L557.7,1046.5 L561.5,1043.3 L565.3,1040.2 L569.1,1037.0 L573.0,1033.8 L576.8,1030.6 L580.6,1027.3 L584.4,1024.1 L588.2,1020.8 L592.0,1017.6 L595.8,1014.3 L599.6,1010.9 L603.5,1007.6 L607.3,1004.3 L611.1,1000.9 L614.9,997.5 L618.7,994.1 L622.5,990.7 L626.3,987.3 L630.1,983.9 L634.0,980.4 L637.8,977.0 L641.6,973.5 L645.4,970.0 L649.2,966.5 L653.0,963.0 L656.8,959.4 L660.6,955.9 L664.5,952.3 L668.3,948.8 L672.1,945.2 L675.9,941.6 L679.7,938.0 L683.5,934.3 L687.3,930.7 L691.1,927.1 L695.0,923.4 L698.8,919.7 L702.6,916.1 L706.4,912.4 L710.2,908.7 L714.0,905.0 L717.8,901.2 L721.6,897.5 L725.5,893.8 L729.3,890.0 L733.1,886.3 L736.9,882.5 L740.7,878.7 L744.5,874.9 L748.3,871.2 L752.1,867.4 L756.0,863.6 L759.8,859.7 L763.6,855.9 L767.4,852.1 L771.2,848.3 L775.0,844.4 L778.8,840.6 L782.6,836.7 L786.5,832.9 L790.3,829.0 L794.1,825.2 L797.9,821.3 L801.7,817.4 L805.5,813.5 L809.3,809.7 L813.1,805.8 L817.0,801.9 L820.8,798.0 L824.6,794.1 L828.4,790.2 L832.2,786.3 L836.0,782.4 L839.8,778.5 L843.6,774.7 L847.5,770.8 L851.3,766.9 L855.1,763.0 L858.9,759.1 L862.7,755.2 L866.5,751.3 L870.3,747.4 L874.1,743.5 L878.0,739.6 L881.8,735.7 L885.6,731.8 L889.4,727.9 L893.2,724.1 L897.0,720.2 L900.8,716.3 L904.6,712.4 L908.5,708.6 L912.3,704.7 L916.1,700.8 L919.9,697.0 L923.7,693.1 L927.5,689.3 L931.3,685.5 L935.1,681.6 L939.0,677.8 L942.8,674.0 L946.6,670.2 L950.4,666.4 L954.2,662.6 L958.0,658.8 L961.8,655.0 L965.6,651.2 L969.4,647.5 L973.3,643.7 L977.1,640.0 L980.9,636.2 L984.7,632.5 L988.5,628.8 L992.3,625.1 L996.1,621.4 L999.9,617.7 L1003.8,614.0 L1007.6,610.3 L1011.4,606.7 L1015.2,603.0 L1019.0,599.4 L1022.8,595.8 L1026.6,592.2 L1030.4,588.5 L1034.3,585.0 L1038.1,581.4 L1041.9,577.8 L1045.7,574.3 L1049.5,570.7 L1053.3,567.2 L1057.1,563.7 L1060.9,560.2 L1064.8,556.7 L1068.6,553.2 L1072.4,549.8 L1076.2,546.3 L1080.0,542.9 L1083.8,539.5 L1087.6,536.1 L1091.4,532.7 L1095.3,529.3 L1099.1,525.9 L1102.9,522.6 L1106.7,519.3 L1110.5,516.0 L1114.3,512.7 L1118.1,509.4 L1121.9,506.1 L1125.8,502.9 L1129.6,499.6 L1133.4,496.4 L1137.2,493.2 L1141.0,490.0 L1144.8,486.8 L1148.6,483.7 L1152.4,480.5 L1156.3,477.4 L1160.1,474.3 L1163.9,471.2 L1167.7,468.1 L1171.5,465.1 L1175.3,462.0 L1179.1,459.0 L1182.9,456.0 L1186.8,453.0 L1190.6,450.0 L1194.4,447.1 L1198.2,444.1 L1202.0,441.2 L1205.8,438.3 L1209.6,435.4 L1213.4,432.6 L1217.3,429.7 L1221.1,426.9 L1224.9,424.0 L1228.7,421.2 L1232.5,418.4 L1236.3,415.7 L1240.1,412.9 L1243.9,410.2 L1247.8,407.5 L1251.6,404.8 L1255.4,402.1 L1259.2,399.4 L1263.0,396.8 L1266.8,394.1 L1270.6,391.5 L1274.4,388.9 L1278.3,386.3 L1282.1,383.8 L1285.9,381.2 L1289.7,378.7 L1293.5,376.2 L1297.3,373.7 L1301.1,371.2 L1304.9,368.7 L1308.8,366.3 L1312.6,363.9 L1316.4,361.4 L1320.2,359.1 L1324.0,356.7 L1327.8,354.3 L1331.6,352.0 L1335.4,349.6 L1339.3,347.3 L1343.1,345.0 L1346.9,342.7 L1350.7,340.5 L1354.5,338.2 L1358.3,336.0 L1362.1,333.8 L1365.9,331.6 L1369.8,329.4 L1373.6,327.2 L1377.4,325.1 L1381.2,322.9 L1385.0,320.8 L1388.8,318.7 L1392.6,316.6 L1396.4,314.5 L1400.3,312.5 L1404.1,310.4 L1407.9,308.4 L1411.7,306.4 L1415.5,304.4 L1419.3,302.4 L1423.1,300.4 L1426.9,298.5 L1430.8,296.5 L1434.6,294.6 L1438.4,292.7 L1442.2,290.8 L1446.0,288.9 L1449.8,287.0 L1453.6,285.1 L1457.4,283.3 L1461.3,281.5 L1465.1,279.6 L1468.9,277.8 L1472.7,276.0 L1476.5,274.3 L1480.3,272.5 L1484.1,270.7 L1487.9,269.0 L1491.8,267.3 L1495.6,265.5 L1499.4,263.8 L1503.2,262.1 L1507.0,260.4 L1510.8,258.8 L1514.6,257.1 L1518.4,255.5 L1522.3,253.8 L1526.1,252.2 L1529.9,250.6 L1533.7,249.0 L1537.5,247.4 L1541.3,245.8 L1545.1,244.3 L1548.9,242.7 L1552.8,241.2 L1556.6,239.6 L1560.4,238.1 L1564.2,236.6 L1568.0,235.0 L1571.8,233.5 L1575.6,232.0 L1579.4,230.5 L1583.3,229.0 L1587.1,227.5 L1590.9,226.0 L1594.7,224.6 L1598.5,223.1 L1602.3,221.7 L1606.1,220.2 L1609.9,218.8 L1613.8,217.4 L1617.6,216.0 L1621.4,214.6 L1625.2,213.2 L1629.0,211.9 L1632.8,210.5 L1636.6,209.2 L1640.4,207.8 L1644.3,206.5 L1648.1,205.2 L1651.9,204.0 L1655.7,202.7 L1659.5,201.4 L1663.3,200.2 L1667.1,198.9 L1670.9,197.7 L1674.8,196.4 L1678.6,195.2 L1682.4,194.0 L1686.2,192.8 L1690.0,191.6 L1693.8,190.4 L1697.6,189.2 L1701.4,188.1 L1705.3,186.9 L1709.1,185.8 L1712.9,184.6 L1716.7,183.5 L1720.5,182.4 L1724.3,181.2 L1728.1,180.1 L1731.9,179.0 L1735.8,177.9 L1739.6,176.8 L1743.4,175.8 L1747.2,174.7 L1751.0,173.6 L1754.8,172.6 L1758.6,171.5 L1762.4,170.5 L1766.3,169.5 L1770.1,168.4 L1773.9,167.4 L1777.7,166.4 L1781.5,165.4 L1785.3,164.4 L1789.1,163.4 L1792.9,162.5 L1796.8,161.5 L1800.6,160.6 L1804.4,159.6 L1808.2,158.7 L1812.0,157.7 L1815.8,156.8 L1819.6,155.9 L1823.4,155.0 L1827.3,154.1 L1831.1,153.2 L1834.9,152.3 L1838.7,151.4 L1842.5,150.5 L1846.3,149.7 L1850.1,148.8 L1853.9,147.9 L1857.8,147.1 L1861.6,146.2 L1865.4,145.4 L1869.2,144.6 L1873.0,143.7 L1876.8,142.9 L1880.6,142.1 L1884.4,141.3 L1888.3,140.5 L1892.1,139.7 L1895.9,138.9 L1899.7,138.1 L1903.5,137.3 L1907.3,136.5 L1911.1,135.8 L1914.9,135.0 L1918.8,134.2 L1922.6,133.4 L1926.4,132.7 L1930.2,131.9 L1934.0,131.1 L1937.8,130.4 L1941.6,129.6 L1945.4,128.9 L1949.3,128.1 L1953.1,127.4 L1956.9,126.7 L1960.7,125.9 L1964.5,125.2 L1968.3,124.5 L1972.1,123.8 L1975.9,123.1 L1979.8,122.4 L1983.6,121.7 L1987.4,121.0 L1991.2,120.3 L1995.0,119.6 L1998.8,119.0 L2002.6,118.3 L2006.4,117.7 L2010.3,117.0 L2014.1,116.4 L2017.9,115.7 L2021.7,115.1 L2025.5,114.5 L2029.3,113.8 L2033.1,113.2 L2036.9,112.6 L2040.7,112.0 L2044.6,111.3 L2048.4,110.7 L2052.2,110.1 L2056.0,109.5 L2059.8,108.9 L2063.6,108.3 L2067.4,107.7 L2071.2,107.1 L2075.1,106.5 L2078.9,105.9 L2082.7,105.3 L2086.5,104.7 L2090.3,104.1 L2094.1,103.6 L2097.9,103.0 L2101.7,102.4 L2105.6,101.9 L2109.4,101.3 L2113.2,100.8 L2117.0,100.3 L2120.8,99.7 L2124.6,99.2 L2128.4,98.7 L2132.2,98.2 L2136.1,97.7 L2139.9,97.2 L2143.7,96.7 L2147.5,96.2 L2151.3,95.7 L2155.1,95.2 L2158.9,94.8" stroke="#ff0000" stroke-width="7.5" stroke-dasharray="37 32.53" stroke-dashoffset="7"/>
</g>
<path d="M256.0,1243.5 H2154.0 M310.5,1244.0 v-8 M368.5,1244.0 v-8 M426.5,1244.0 v-8 M483.5,1244.0 v-8 M541.5,1244.0 v-13 M598.5,1244.0 v-8 M656.5,1244.0 v-8 M713.5,1244.0 v-8 M771.5,1244.0 v-8 M829.5,1244.0 v-13 M886.5,1244.0 v-8 M944.5,1244.0 v-8 M1001.5,1244.0 v-8 M1059.5,1244.0 v-8 M1117.5,1244.0 v-13 M1174.5,1244.0 v-8 M1232.5,1244.0 v-8 M1289.5,1244.0 v-8 M1347.5,1244.0 v-8 M1404.5,1244.0 v-13 M1462.5,1244.0 v-8 M1520.5,1244.0 v-8 M1577.5,1244.0 v-8 M1635.5,1244.0 v-8 M1692.5,1244.0 v-13 M1750.5,1244.0 v-8 M1807.5,1244.0 v-8 M1865.5,1244.0 v-8 M1923.5,1244.0 v-8 M1980.5,1244.0 v-13 M2038.5,1244.0 v-8 M2095.5,1244.0 v-8 M2153.5,1244.0 v-8" stroke="#000" stroke-width="1" fill="none" shape-rendering="crispEdges"/>
<g filter="url(#th)">
<text transform="matrix(0.9943 0 0 1.0276 245.24 1262.72)" font-size="66" text-anchor="end" stroke-width="1.4">0.0</text>
<text transform="matrix(0.9943 0 0 1.0276 245.24 1028.72)" font-size="66" text-anchor="end" stroke-width="1.4">0.2</text>
<text transform="matrix(0.9943 0 0 1.0276 245.24 794.72)" font-size="66" text-anchor="end" stroke-width="1.4">0.4</text>
<text transform="matrix(0.9943 0 0 1.0276 245.24 559.72)" font-size="66" text-anchor="end" stroke-width="1.4">0.6</text>
<text transform="matrix(0.9943 0 0 1.0276 245.24 325.72)" font-size="66" text-anchor="end" stroke-width="1.4">0.8</text>
<text transform="matrix(0.9943 0 0 1.0276 155.31 91.72)" font-size="66" stroke-width="1.4">1<tspan dx="-1.307">.0</tspan></text>
<rect x="158" y="85" width="13" height="9" fill="#fff"/>
<rect x="178" y="85" width="13" height="9" fill="#fff"/>
<text transform="matrix(0.9915 0 0 1.0276 539.62 1309.72)" font-size="66" text-anchor="middle" stroke-width="1.4">0.5</text>
<text transform="matrix(0.9915 0 0 1.0276 783.34 1309.72)" font-size="66" stroke-width="1.4">1<tspan dx="-1.311">.0</tspan></text>
<rect x="786" y="1303" width="13" height="9" fill="#fff"/>
<rect x="806" y="1303" width="13" height="9" fill="#fff"/>
<text transform="matrix(0.9915 0 0 1.0276 1071.24 1309.72)" font-size="66" stroke-width="1.4">1<tspan dx="-1.311">.5</tspan></text>
<rect x="1074" y="1303" width="13" height="9" fill="#fff"/>
<rect x="1094" y="1303" width="13" height="9" fill="#fff"/>
<text transform="matrix(0.9915 0 0 1.0276 1403.32 1309.72)" font-size="66" text-anchor="middle" stroke-width="1.4">2.0</text>
<text transform="matrix(0.9915 0 0 1.0276 1691.22 1309.72)" font-size="66" text-anchor="middle" stroke-width="1.4">2.5</text>
<text transform="matrix(0.9915 0 0 1.0276 1979.12 1309.72)" font-size="66" text-anchor="middle" stroke-width="1.4">3.0</text>
<rect x="1648" y="421" width="61" height="6" fill="#000000"/>
<g><text transform="matrix(0.9004 0 0 0.9329 1728.54 433.27)" font-size="75" class="i" stroke-width="2.4">γ</text><text transform="matrix(0.9852 0 0 0.9933 1764.07 446.25)" font-size="53" class="i" stroke-width="1.4">E</text><text transform="matrix(0.9290 0 0 0.8679 1801.68 435.98)" font-size="75" stroke-width="2.2">=</text><text transform="matrix(0.9315 0 0 1.0067 1844.14 433.65)" font-size="75" stroke-width="2.0">0, </text><text transform="matrix(0.9254 0 0 0.9329 1928.47 433.27)" font-size="75" class="i" stroke-width="2.4">γ</text><text transform="matrix(0.9254 0 0 0.9933 1965.31 446.25)" font-size="53" class="i" stroke-width="1.4">B</text><text transform="matrix(0.9290 0 0 0.8679 2000.68 435.98)" font-size="75" stroke-width="2.2">=</text><text transform="matrix(0.9007 0 0 1.0067 2043.20 433.25)" font-size="75" stroke-width="2.0">0</text></g>
<rect x="1648" y="543" width="61" height="5" fill="#0000ff"/>
<g><text transform="matrix(0.9004 0 0 0.9329 1728.54 554.27)" font-size="75" class="i" stroke-width="2.4">γ</text><text transform="matrix(0.9852 0 0 0.9933 1764.07 567.25)" font-size="53" class="i" stroke-width="1.4">E</text><text transform="matrix(0.9290 0 0 0.8679 1801.68 556.98)" font-size="75" stroke-width="2.2">=</text><text transform="matrix(0.9315 0 0 1.0067 1844.14 554.65)" font-size="75" stroke-width="2.0">2, </text><text transform="matrix(0.9254 0 0 0.9329 1928.47 554.27)" font-size="75" class="i" stroke-width="2.4">γ</text><text transform="matrix(0.9254 0 0 0.9933 1965.31 567.25)" font-size="53" class="i" stroke-width="1.4">B</text><text transform="matrix(0.9290 0 0 0.8679 2000.68 556.98)" font-size="75" stroke-width="2.2">=</text><text transform="matrix(0.9007 0 0 1.0067 2043.20 554.25)" font-size="75" stroke-width="2.0">0</text></g>
<rect x="1617" y="663" width="38" height="7" fill="#0000ff"/>
<rect x="1687" y="663" width="37" height="7" fill="#0000ff"/>
<g><text transform="matrix(0.9004 0 0 0.9329 1758.04 676.27)" font-size="75" class="i" stroke-width="2.4">γ</text><text transform="matrix(0.9852 0 0 0.9933 1793.57 689.25)" font-size="53" class="i" stroke-width="1.4">E</text><text transform="matrix(0.9290 0 0 0.8679 1831.18 678.98)" font-size="75" stroke-width="2.2">=</text><text transform="matrix(0.9315 0 0 1.0067 1873.64 676.65)" font-size="75" stroke-width="2.0">0, </text><text transform="matrix(0.9254 0 0 0.9329 1957.97 676.27)" font-size="75" class="i" stroke-width="2.4">γ</text><text transform="matrix(0.9254 0 0 0.9933 1994.81 689.25)" font-size="53" class="i" stroke-width="1.4">B</text><text transform="matrix(0.9290 0 0 0.8679 2030.18 678.98)" font-size="75" stroke-width="2.2">=</text><text transform="matrix(0.9007 0 0 1.0067 2072.70 676.25)" font-size="75" stroke-width="2.0">2</text></g>
<rect x="1648" y="785" width="61" height="6" fill="#ff0000"/>
<g><text transform="matrix(0.9004 0 0 0.9329 1728.54 797.27)" font-size="75" class="i" stroke-width="2.4">γ</text><text transform="matrix(0.9852 0 0 0.9933 1764.07 810.25)" font-size="53" class="i" stroke-width="1.4">E</text><text transform="matrix(0.9290 0 0 0.8679 1801.68 799.98)" font-size="75" stroke-width="2.2">=</text><text transform="matrix(0.9315 0 0 1.0067 1844.14 797.65)" font-size="75" stroke-width="2.0">4, </text><text transform="matrix(0.9254 0 0 0.9329 1928.47 797.27)" font-size="75" class="i" stroke-width="2.4">γ</text><text transform="matrix(0.9254 0 0 0.9933 1965.31 810.25)" font-size="53" class="i" stroke-width="1.4">B</text><text transform="matrix(0.9290 0 0 0.8679 2000.68 799.98)" font-size="75" stroke-width="2.2">=</text><text transform="matrix(0.9007 0 0 1.0067 2043.20 797.25)" font-size="75" stroke-width="2.0">0</text></g>
<rect x="1617" y="906" width="38" height="7" fill="#ff0000"/>
<rect x="1687" y="906" width="37" height="7" fill="#ff0000"/>
<g><text transform="matrix(0.9004 0 0 0.9329 1758.04 918.27)" font-size="75" class="i" stroke-width="2.4">γ</text><text transform="matrix(0.9852 0 0 0.9933 1793.57 931.25)" font-size="53" class="i" stroke-width="1.4">E</text><text transform="matrix(0.9290 0 0 0.8679 1831.18 920.98)" font-size="75" stroke-width="2.2">=</text><text transform="matrix(0.9315 0 0 1.0067 1873.64 918.65)" font-size="75" stroke-width="2.0">0, </text><text transform="matrix(0.9254 0 0 0.9329 1957.97 918.27)" font-size="75" class="i" stroke-width="2.4">γ</text><text transform="matrix(0.9254 0 0 0.9933 1994.81 931.25)" font-size="53" class="i" stroke-width="1.4">B</text><text transform="matrix(0.9290 0 0 0.8679 2030.18 920.98)" font-size="75" stroke-width="2.2">=</text><text transform="matrix(0.9007 0 0 1.0067 2072.70 918.25)" font-size="75" stroke-width="2.0">4</text></g>
<g><text transform="matrix(0.9800 0 0 0.9099 64.48 594.99)" font-size="76" class="b i" stroke-width="1.6">ρ</text><rect x="48" y="632" width="78" height="10" fill="#000"/><text transform="matrix(0.9800 0 0 0.9099 49.48 736.99)" font-size="76" class="b i" stroke-width="1.6">ρ</text><text transform="matrix(0.9174 0 0 0.9560 91.85 749.81)" font-size="54" class="b" stroke-width="1.6">0</text></g>
<g><text transform="matrix(1.0074 0 0 0.9341 1118.73 1413.30)" font-size="76" class="b" stroke-width="1.6">z</text><text transform="matrix(0.9898 0 0 0.9442 1156.04 1412.88)" font-size="76" class="b" stroke-width="1.6">/</text><text transform="matrix(0.9333 0 0 0.9477 1181.07 1414.67)" font-size="76" class="b i" stroke-width="1.6">ξ</text><text transform="matrix(0.9317 0 0 0.9560 1213.79 1426.81)" font-size="54" class="b" stroke-width="1.6">GL</text></g>
</g>
</svg></body></html>
